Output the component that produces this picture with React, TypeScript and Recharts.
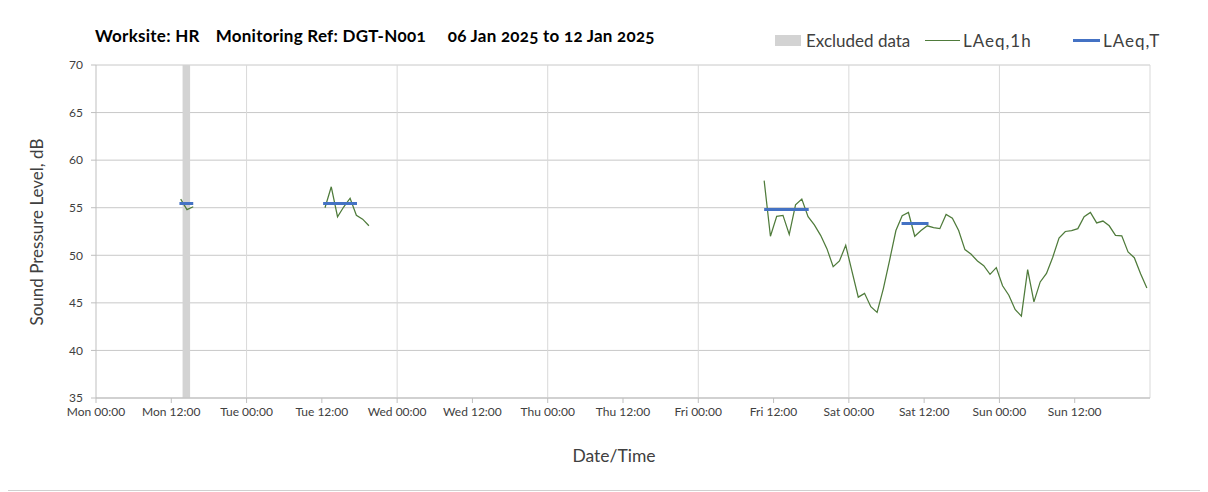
import {
  LineChart,
  Line,
  XAxis,
  YAxis,
  CartesianGrid,
  ReferenceArea,
  ReferenceLine,
} from "recharts";

// hours counted from Mon 00:00, hourly values plotted at the half hour
const monStart = 13.5;
const monLaeq1h = [55.9, 54.8, 55.1];

const tueStart = 36.5;
const tueLaeq1h = [55.0, 57.2, 54.05, 55.1, 56.0, 54.2, 53.8, 53.1];

const friStart = 106.5;
const friSunLaeq1h = [
  57.85, 52.0, 54.1, 54.2, 52.2, 55.3, 55.9, 54.05, 53.2, 52.1, 50.7, 48.8,
  49.4, 51.05, 48.3, 45.6, 46.0, 44.6, 44.0, 46.5, 49.5, 52.6, 54.15, 54.5,
  52.0, 52.6, 53.1, 52.9, 52.8, 54.3, 53.9, 52.6, 50.6, 50.1, 49.4, 48.9,
  48.0, 48.7, 46.8, 45.8, 44.3, 43.6, 48.5, 45.1, 47.2, 48.1, 49.8, 51.8,
  52.5, 52.6, 52.8, 54.05, 54.5, 53.4, 53.6, 53.1, 52.1, 52.05, 50.35, 49.75,
  48.05, 46.55,
];

// LAeq,T periods
const periodFrom = [13.3, 36.2, 106.5, 128.4];
const periodTo = [15.5, 41.6, 113.6, 132.7];
const laeqT = [55.45, 55.45, 54.8, 53.35];

// excluded data
const excludedFrom = 13.8;
const excludedTo = 15.0;

const xTicks = [0, 12, 24, 36, 48, 60, 72, 84, 96, 108, 120, 132, 144, 156];
const xTickLabels = [
  "Mon 00:00", "Mon 12:00", "Tue 00:00", "Tue 12:00", "Wed 00:00", "Wed 12:00",
  "Thu 00:00", "Thu 12:00", "Fri 00:00", "Fri 12:00", "Sat 00:00", "Sat 12:00",
  "Sun 00:00", "Sun 12:00",
];
const dayLines = [24, 48, 72, 96, 120, 144, 168];
const yTicks = [35, 40, 45, 50, 55, 60, 65, 70];

const FONT = "Lato, 'Open Sans', sans-serif";
const GREEN = "#4f7b3b";
const BLUE = "#4472c4";

const toSeries = (start: number, vals: number[]) =>
  vals.map((v, i) => ({ t: start + i, v }));

const legendItem = (left: number): React.CSSProperties => ({
  position: "absolute",
  left,
  top: 30,
  fontSize: 17,
  color: "#404040",
  display: "flex",
  alignItems: "center",
  whiteSpace: "pre",
});

export default function App() {
  const segments = [
    toSeries(monStart, monLaeq1h),
    toSeries(tueStart, tueLaeq1h),
    toSeries(friStart, friSunLaeq1h),
  ];
  const periods = laeqT.map((v, i) => [
    { t: periodFrom[i], v },
    { t: periodTo[i], v },
  ]);

  return (
    <div
      style={{
        position: "relative",
        width: 1208,
        height: 492,
        marginLeft: -8,
        marginTop: -8,
        fontFamily: FONT,
        background: "#fff",
        overflow: "hidden",
      }}
    >
      <div
        style={{
          position: "absolute",
          left: 5,
          top: -2,
          width: 1196,
          height: 491,
          border: "1px solid #d0d0d0",
        }}
      />
      {/* title */}
      <div
        style={{
          position: "absolute",
          left: 95,
          top: 25,
          fontSize: 17,
          fontWeight: 700,
          letterSpacing: 0.25,
          color: "#000",
          whiteSpace: "pre",
          fontFeatureSettings: "'onum'",
        }}
      >
        <span>Worksite: HR</span>
        <span style={{ marginLeft: 16 }}>Monitoring Ref: DGT-N001</span>
        <span style={{ marginLeft: 22 }}>06 Jan 2025 to 12 Jan 2025</span>
      </div>
      {/* legend */}
      <div style={legendItem(775)}>
        <span style={{ width: 26, height: 11, background: "#d3d3d3", marginRight: 5 }} />
        <span>Excluded data</span>
      </div>
      <div style={legendItem(925)}>
        <span style={{ width: 35, height: 1.5, background: GREEN, marginRight: 3 }} />
        <span style={{ letterSpacing: 1 }}>LAeq,1h</span>
      </div>
      <div style={legendItem(1073)}>
        <span style={{ width: 27, height: 3, background: BLUE, marginRight: 3 }} />
        <span style={{ letterSpacing: 1 }}>LAeq,T</span>
      </div>
      <LineChart
        width={1208}
        height={492}
        margin={{ top: 65, right: 58, bottom: 64, left: 0 }}
      >
        <CartesianGrid vertical={false} stroke="#c8c8c8" />
        <ReferenceArea
          x1={excludedFrom}
          x2={excludedTo}
          y1={35}
          y2={70}
          fill="#d3d3d3"
          fillOpacity={1}
          stroke="none"
        />
        {dayLines.map((d) => (
          <ReferenceLine key={d} x={d} stroke="#d9d9d9" />
        ))}
        <XAxis
          type="number"
          dataKey="t"
          domain={[0, 168]}
          ticks={xTicks}
          tickFormatter={(t: number) => xTickLabels[xTicks.indexOf(t)]}
          interval={0}
          height={30}
          stroke="#bfbfbf"
          tickSize={5}
          tickMargin={4}
          tick={{ fill: "#404040", fontSize: 12, fontFamily: FONT }}
          allowDataOverflow
        />
        <YAxis
          type="number"
          domain={[35, 70]}
          ticks={yTicks}
          width={96}
          stroke="#bfbfbf"
          tickSize={5}
          tickMargin={8}
          tick={{ fill: "#404040", fontSize: 12, fontFamily: FONT }}
        />
        {segments.map((s, i) => (
          <Line
            key={"g" + i}
            data={s}
            dataKey="v"
            stroke={GREEN}
            strokeWidth={1.25}
            dot={false}
            isAnimationActive={false}
          />
        ))}
        {periods.map((p, i) => (
          <Line
            key={"b" + i}
            data={p}
            dataKey="v"
            stroke={BLUE}
            strokeWidth={3}
            dot={false}
            isAnimationActive={false}
          />
        ))}
      </LineChart>
      {/* axis titles */}
      <div
        style={{
          position: "absolute",
          left: 0,
          width: 1228,
          top: 445,
          textAlign: "center",
          fontSize: 17.5,
          color: "#404040",
        }}
      >
        Date/Time
      </div>
      <div
        style={{
          position: "absolute",
          left: 36,
          top: 232,
          transform: "translate(-50%, -50%) rotate(-90deg)",
          fontSize: 17,
          color: "#404040",
          whiteSpace: "nowrap",
        }}
      >
        Sound Pressure Level, dB
      </div>
    </div>
  );
}
